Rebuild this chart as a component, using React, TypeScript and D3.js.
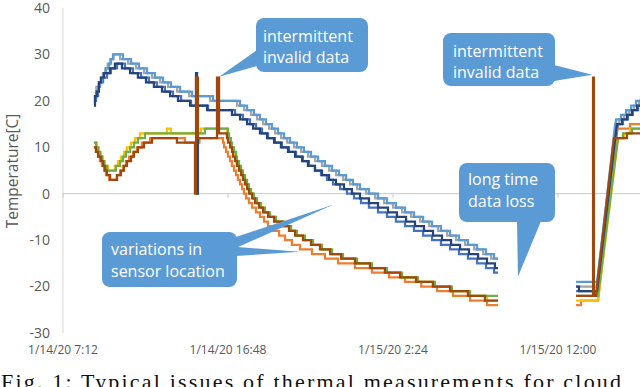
import React from "react";
import * as d3 from "d3";

// ---------- data (time in hours since 1/14/20 0:00, temperature in °C) ----------
const TIME_TICKS = [7.2, 16.8, 26.4, 36.0];
const TIME_LABELS = ["1/14/20 7:12", "1/14/20 16:48", "1/15/20 2:24", "1/15/20 12:00"];
const TEMP_TICKS = [40, 30, 20, 10, 0, -10, -20, -30];

// third element = 1 means the sample is joined linearly to the previous one (sparse data)
const medBlue1 = [[9.00,20],[9.12,21],[9.24,23],[9.35,24],[9.53,25],[9.76,26],[9.99,27],[10.34,28],[10.81,27],[11.27,26],[11.74,25],[12.20,24],[12.67,23],[13.13,22],[13.60,21],[14.07,20],[14.65,19],[15.64,18],[17.21,17],[17.67,16],[18.08,15],[18.43,14],[18.78,13],[19.13,12],[19.53,11],[19.94,10],[20.35,9],[20.76,8],[21.16,7],[21.51,6],[21.86,5],[22.21,4],[22.56,3],[22.91,2],[23.32,1],[23.72,0],[24.13,-1],[24.54,-2],[25.00,-3],[25.53,-4],[26.05,-5],[26.57,-6],[27.10,-7],[27.62,-8],[28.15,-9],[28.67,-10],[29.19,-11],[29.72,-12],[30.24,-13],[30.76,-14],[31.29,-15],[31.81,-16],[32.28,-17],[32.51,-17]];
const medBlue2 = [[37.05,-21],[38.33,-21],[39.49,15,1],[39.78,16],[40.07,17],[40.36,18],[40.66,19],[40.83,19]];

const orange1 = [[9.00,10],[9.12,9],[9.24,8],[9.35,7],[9.47,6],[9.59,5],[9.70,4],[9.88,3],[10.34,4],[10.52,5],[10.69,6],[10.86,7],[11.04,8],[11.27,9],[11.50,10],[11.79,11],[12.26,12],[14.30,11],[15.14,12],[16.51,11],[16.57,10],[16.69,9],[16.80,8],[16.92,7],[17.03,6],[17.15,5],[17.27,4],[17.38,3],[17.50,2],[17.62,1],[17.73,0],[17.85,-1],[18.02,-2],[18.20,-3],[18.43,-4],[18.66,-5],[18.90,-6],[19.13,-7],[19.42,-8],[19.77,-9],[20.12,-10],[20.52,-11],[20.99,-12],[21.69,-13],[22.44,-14],[23.20,-15],[24.19,-16],[25.18,-17],[26.17,-18],[27.10,-19],[28.04,-20],[28.96,-21],[29.89,-22],[30.88,-23],[31.87,-24],[32.51,-24]];
const orange2 = [[37.05,-24],[37.34,-23],[38.33,-23],[39.43,14,1],[40.19,15],[40.83,15]];

const gray1 = [[9.00,21],[9.14,23],[9.28,24],[9.40,25],[9.52,26],[9.66,27],[9.80,28],[9.95,29],[10.14,30],[10.52,29],[10.99,28],[11.45,27],[11.92,26],[12.38,25],[12.85,24],[13.31,23],[13.84,22],[14.54,21],[15.76,20],[17.33,19],[17.74,18],[18.14,17],[18.49,16],[18.84,15],[19.19,14],[19.54,13],[19.89,12],[20.24,11],[20.64,10],[21.05,9],[21.46,8],[21.87,7],[22.27,6],[22.68,5],[23.09,4],[23.50,3],[23.90,2],[24.31,1],[24.83,0],[25.36,-1],[25.88,-2],[26.40,-3],[26.93,-4],[27.45,-5],[27.98,-6],[28.50,-7],[29.02,-8],[29.55,-9],[30.07,-10],[30.59,-11],[31.12,-12],[31.64,-13],[32.11,-14],[32.51,-14]];
const gray2 = [[37.05,-20],[38.27,-20],[39.32,15,1],[39.55,16],[39.84,17],[40.13,18],[40.42,19],[40.72,20],[40.83,20]];

const yellow1 = [[9.00,11],[9.18,10],[9.29,9],[9.41,8],[9.53,7],[9.64,6],[9.82,5],[10.22,6],[10.40,7],[10.57,8],[10.75,9],[10.92,10],[11.16,11],[11.39,12],[11.68,13],[13.25,14],[13.48,13],[15.23,14],[16.74,13],[16.80,12],[16.92,11],[16.97,10],[17.09,9],[17.21,8],[17.27,7],[17.38,6],[17.50,5],[17.62,4],[17.73,3],[17.85,2],[17.97,1],[18.08,0],[18.26,-1],[18.43,-2],[18.66,-3],[18.90,-4],[19.19,-5],[19.53,-6],[20.00,-7],[20.41,-8],[20.76,-9],[21.22,-10],[21.69,-11],[22.21,-12],[22.79,-13],[23.43,-14],[24.25,-15],[25.12,-16],[25.99,-17],[26.86,-18],[27.80,-19],[28.78,-20],[29.78,-21],[30.82,-22],[31.87,-23],[32.51,-23]];
const yellow2 = [[37.05,-23],[38.33,-23],[39.49,12,1],[39.84,13],[40.19,14],[40.83,14]];

const lightBlue1 = [[9.00,21],[9.12,22],[9.24,23],[9.35,24],[9.47,25],[9.59,26],[9.70,27],[9.88,28],[9.99,29],[10.11,30],[10.69,29],[11.16,28],[11.62,27],[12.09,26],[12.55,25],[13.02,24],[13.48,23],[14.01,22],[14.71,21],[15.93,20],[17.50,19],[17.91,18],[18.31,17],[18.66,16],[19.01,15],[19.36,14],[19.71,13],[20.06,12],[20.41,11],[20.81,10],[21.22,9],[21.63,8],[22.04,7],[22.44,6],[22.85,5],[23.26,4],[23.67,3],[24.07,2],[24.48,1],[25.00,0],[25.53,-1],[26.05,-2],[26.57,-3],[27.10,-4],[27.62,-5],[28.15,-6],[28.67,-7],[29.19,-8],[29.72,-9],[30.24,-10],[30.76,-11],[31.29,-12],[31.81,-13],[32.28,-14],[32.51,-14]];
const lightBlue2 = [[37.05,-19],[38.27,-19],[39.38,16,1],[39.67,17],[39.96,18],[40.25,19],[40.54,20],[40.83,21]];

const green1 = [[9.00,11],[9.12,10],[9.24,9],[9.35,8],[9.47,7],[9.59,6],[9.76,5],[10.28,6],[10.52,7],[10.69,8],[10.86,9],[11.10,10],[11.33,11],[11.56,12],[11.97,13],[15.46,14],[16.80,13],[16.86,12],[16.97,11],[17.03,10],[17.15,9],[17.27,8],[17.32,7],[17.44,6],[17.56,5],[17.67,4],[17.79,3],[17.91,2],[18.02,1],[18.14,0],[18.31,-1],[18.49,-2],[18.72,-3],[18.95,-4],[19.24,-5],[19.59,-6],[20.06,-7],[20.47,-8],[20.81,-9],[21.28,-10],[21.75,-11],[22.27,-12],[22.85,-13],[23.49,-14],[24.31,-15],[25.18,-16],[26.05,-17],[26.92,-18],[27.85,-19],[28.84,-20],[29.83,-21],[30.88,-22],[32.51,-22]];
const green2 = [[37.05,-22],[38.33,-22],[39.49,12,1],[39.78,13],[40.30,14],[40.83,14]];

const navy1 = [[9.00,19],[9.06,21],[9.17,22],[9.29,24],[9.41,25],[9.58,26],[9.93,27],[10.22,28],[10.63,27],[11.10,26],[11.56,25],[12.03,24],[12.49,23],[12.96,22],[13.43,21],[13.89,20],[14.59,19],[14.94,26],[15.00,0],[15.05,19],[15.58,18],[17.03,17],[17.50,16],[17.91,15],[18.26,14],[18.66,13],[19.07,12],[19.48,11],[19.88,10],[20.29,9],[20.70,8],[21.11,7],[21.45,6],[21.86,5],[22.27,4],[22.68,3],[23.08,2],[23.55,1],[24.01,0],[24.48,-1],[25.00,-2],[25.53,-3],[26.11,-4],[26.63,-5],[27.16,-6],[27.68,-7],[28.20,-8],[28.73,-9],[29.25,-10],[29.78,-11],[30.30,-12],[30.82,-13],[31.35,-14],[31.87,-15],[32.33,-16],[32.51,-16]];
const navy2 = [[37.05,-20],[37.22,-21],[38.27,-21],[39.43,15,1],[39.72,16],[40.01,17],[40.30,18],[40.60,19],[40.83,20]];

const brown1 = [[9.00,10],[9.12,9],[9.24,8],[9.41,7],[9.53,6],[9.64,5],[9.76,4],[9.94,3],[10.34,4],[10.57,5],[10.75,6],[10.92,7],[11.16,8],[11.33,9],[11.56,10],[11.91,11],[12.38,12],[13.83,11],[14.88,0],[14.94,25],[15.05,12],[16.16,25],[16.28,13],[16.74,12],[16.80,11],[16.92,10],[17.03,9],[17.09,8],[17.21,7],[17.32,6],[17.44,5],[17.56,4],[17.67,3],[17.79,2],[17.91,1],[18.02,0],[18.20,-1],[18.37,-2],[18.60,-3],[18.84,-4],[19.13,-5],[19.48,-6],[19.94,-7],[20.35,-8],[20.70,-9],[21.16,-10],[21.63,-11],[22.15,-12],[22.74,-13],[23.38,-14],[24.19,-15],[25.06,-16],[25.93,-17],[26.81,-18],[27.74,-19],[28.72,-20],[29.72,-21],[30.76,-22],[31.75,-23],[32.51,-23]];
const brown2 = [[37.05,-22],[37.98,-22],[38.04,25],[38.09,-22],[38.21,-22],[39.26,12,1],[40.01,13],[40.83,13]];

const SERIES_NAMES = ["s1", "s2", "s3", "s4", "s5", "s6", "s7", "s8"];
const SERIES_COLORS = ["#4472C4", "#ED7D31", "#A5A5A5", "#FFC000", "#5B9BD5", "#70AD47", "#264478", "#9E480E"];
const SERIES_DATA = [
  [medBlue1, medBlue2],
  [orange1, orange2],
  [gray1, gray2],
  [yellow1, yellow2],
  [lightBlue1, lightBlue2],
  [green1, green2],
  [navy1, navy2],
  [brown1, brown2],
];

// callouts: lines of text, pointer tips in data units (hours, °C)
const CALLOUT_TEXTS = [
  ["intermittent", "invalid data"],
  ["intermittent", "invalid data"],
  ["long time", "data loss"],
  ["variations in", "sensor location"],
];
const CALLOUT_TIPS = [
  [[16.28, 25.2]],
  [[38.0, 25.6]],
  [[33.67, -17.9]],
  [[22.91, -2.4], [20.99, -12.5]],
];

const CAPTION = "Fig. 1: Typical issues of thermal measurements for cloud";

const W = 640;
const H = 387;
const FONT = "'Open Sans', 'DejaVu Sans', sans-serif";

export default function App() {
  const x = d3.scaleLinear().domain([7.2, 36]).range([63, 558]);
  const y = d3.scaleLinear().domain([-30, 40]).range([333, 8]);

  const buildPath = (pts: number[][]) => {
    const p = d3.path();
    p.moveTo(x(pts[0][0]), y(pts[0][1]));
    for (let i = 1; i < pts.length; i++) {
      const [t, v, lin] = pts[i];
      const prev = pts[i - 1];
      if (lin) {
        p.lineTo(x(t), y(v));
      } else {
        p.lineTo(x(t), y(prev[1]));
        p.lineTo(x(t), y(v));
      }
    }
    return p.toString();
  };

  // box layout (pixels)
  const boxes = [
    { x: 256, y: 18, w: 112, h: 54, tx: 263, base: [42, 63] },
    { x: 443, y: 33, w: 112, h: 53, tx: 453, base: [57, 78] },
    { x: 459, y: 163, w: 96, h: 59, tx: 468, base: [185, 207] },
    { x: 102, y: 232, w: 135, h: 55, tx: 111, base: [255, 277] },
  ];
  const fill = "#5B9BD5";

  const t0 = CALLOUT_TIPS[0][0];
  const t1 = CALLOUT_TIPS[1][0];
  const t2 = CALLOUT_TIPS[2][0];
  const t3a = CALLOUT_TIPS[3][0];
  const t3b = CALLOUT_TIPS[3][1];
  const pointers = [
    [[257, 50], [x(t0[0]), y(t0[1])], [257, 66]],
    [[554, 65], [x(t1[0]), y(t1[1])], [554, 81]],
    [[517, 221], [x(t2[0]), y(t2[1])], [541, 221]],
    [[236, 237], [x(t3a[0]), y(t3a[1])], [238, 247], [x(t3b[0]), y(t3b[1])], [236, 256]],
  ];

  return (
    <svg
      width={W}
      height={H}
      style={{ position: "absolute", left: 0, top: 0, background: "#fff" }}
      xmlns="http://www.w3.org/2000/svg"
    >
      <rect width={W} height={H} fill="#fff" />
      {/* axes */}
      <line x1={63} x2={63} y1={y(40)} y2={y(-30)} stroke="#D9D9D9" strokeWidth={1} />
      <line x1={63} x2={W} y1={y(0)} y2={y(0)} stroke="#C8C8C8" strokeWidth={1} />
      {TIME_TICKS.map((t) => (
        <line key={"tk" + t} x1={x(t)} x2={x(t)} y1={y(0)} y2={y(0) + 4} stroke="#C8C8C8" />
      ))}
      {TEMP_TICKS.map((v) => (
        <text key={"yt" + v} x={50} y={y(v)} dy="0.35em" textAnchor="end" fontFamily={FONT} fontSize={14} fill="#595959">
          {v}
        </text>
      ))}
      {TIME_TICKS.map((t, i) => (
        <text key={"xt" + t} x={x(t)} y={354} textAnchor="middle" fontFamily={FONT} fontSize={12} fill="#595959">
          {TIME_LABELS[i]}
        </text>
      ))}
      <text
        transform={`translate(18,${171}) rotate(-90)`}
        textAnchor="middle"
        fontFamily={FONT}
        fontSize={15.5}
        fill="#595959"
      >
        Temperature[C]
      </text>

      {/* series */}
      {SERIES_DATA.map((segs, i) =>
        segs.map((seg, j) => (
          <path
            key={SERIES_NAMES[i] + j}
            d={buildPath(seg as number[][])}
            fill="none"
            stroke={SERIES_COLORS[i]}
            strokeWidth={2.25}
            strokeLinejoin="miter"
          />
        ))
      )}

      {/* callouts */}
      {pointers.map((pts, i) => (
        <polygon key={"pt" + i} points={pts.map((p) => p.join(",")).join(" ")} fill={fill} />
      ))}
      {boxes.map((b, i) => (
        <g key={"bx" + i}>
          <rect x={b.x} y={b.y} width={b.w} height={b.h} rx={8} fill={fill} />
          {CALLOUT_TEXTS[i].map((line, k) => (
            <text key={k} x={b.tx} y={b.base[k]} fontFamily={FONT} fontSize={16} fill="#fff">
              {line}
            </text>
          ))}
        </g>
      ))}

      {/* caption */}
      <text
        x={1}
        y={389}
        fontFamily="'Liberation Serif', 'DejaVu Serif', serif"
        fontSize={22}
        fill="#111"
        textLength={620}
        lengthAdjust="spacing"
      >
        {CAPTION}
      </text>
    </svg>
  );
}
